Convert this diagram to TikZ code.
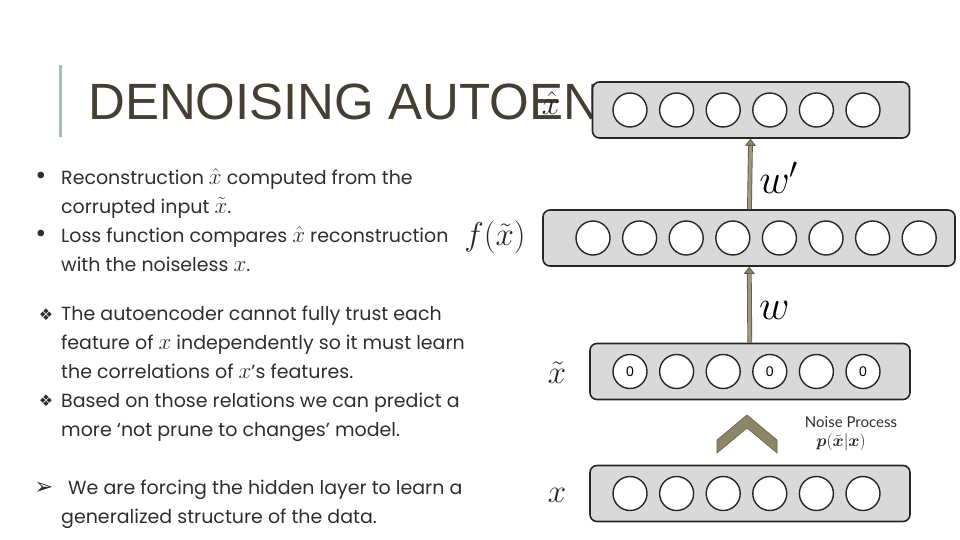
\documentclass[tikz,border=0pt]{standalone}
\usepackage{fix-cm}
\usepackage{amsmath}
\usepackage{fontspec}
\setmainfont{Poppins}
\newfontfamily\titlefont{Liberation Sans}
\newfontfamily\symfont{DejaVu Sans}
\newfontfamily\labelfont{Lato}
\usetikzlibrary{arrows.meta, positioning}
\definecolor{titlegray}{HTML}{453F33}
\definecolor{textgray}{HTML}{2E2E2E}
\definecolor{rulegray}{HTML}{A3BCC0}
\definecolor{wireolive}{HTML}{8C8668}
\definecolor{layerfill}{HTML}{D9D9D9}
% math in the bullet text, a bit larger than the text
\newcommand{\mvar}[1]{{\fontsize{23}{23}\selectfont$#1$}}

\begin{document}
\begin{tikzpicture}[x=1pt, y=-1pt,
    layer/.style={draw=black!85, line width=1.6pt, fill=layerfill,
      rounded corners=7pt, minimum height=56pt, inner sep=0pt},
    unit/.style={draw=black!85, line width=1.4pt, circle, fill=white,
      minimum size=34pt, inner sep=0pt, font=\titlefont\fontsize{14}{14}\selectfont},
    wire/.style={draw=wireolive!70!black, line width=0.9pt, double=wireolive!85!white,
      double distance=3pt, -{Triangle[length=7pt, width=11pt, fill=wireolive]}},
    bodytext/.style={anchor=base west, inner sep=0pt, align=left, text=textgray,
      font=\fontsize{19}{28.7}\selectfont},
    bulletsym/.style={inner sep=0pt, text=textgray},
    mathlabel/.style={inner sep=0pt, text=black!85, font=\fontsize{33}{33}\selectfont}]
  \useasboundingbox (0,0) rectangle (960,540);

  % Title
  \draw[rulegray, line width=3pt] (60,65) -- (60,137);
  \node[anchor=base west, inner sep=0pt, text=titlegray,
        font=\titlefont\fontsize{51}{51}\selectfont] (title) at (88,120)
    {DENOISING AUTOEN};

  % Bullets (anchored at the baseline of the last line)
  \node[bulletsym, font=\fontsize{27}{27}\selectfont] (dot1) at (41,178) {•};
  \node[bodytext] (item1) at (61,213)
    {Reconstruction \mvar{\hat{x}} computed from the\\corrupted input \mvar{\tilde{x}}.};
  \node[bulletsym, font=\fontsize{27}{27}\selectfont] (dot2) at (41,236) {•};
  \node[bodytext] (item2) at (61,271)
    {Loss function compares \mvar{\hat{x}} reconstruction\\with the noiseless \mvar{x}.};

  \node[bulletsym, font=\symfont\fontsize{16}{16}\selectfont] (diam1) at (46,315) {❖};
  \node[bodytext] (item3) at (61,378)
    {The autoencoder cannot fully trust each\\feature of \mvar{x} independently so it must learn\\the correlations of \mvar{x}’s features.};
  \node[bulletsym, font=\symfont\fontsize{16}{16}\selectfont] (diam2) at (46,401) {❖};
  \node[bodytext] (item4) at (61,436)
    {Based on those relations we can predict a\\more ‘not prune to changes’ model.};

  \node[bulletsym, font=\symfont\fontsize{23}{23}\selectfont] (arrow1) at (44,488) {➢};
  \node[bodytext] (item5) at (61,523)
    {\hspace*{7pt}We are forcing the hidden layer to learn a\\generalized structure of the data.};

  % Layers
  \node[layer, minimum width=317pt] (outlayer) at (751,110) {};
  \node[layer, minimum width=412pt] (hidlayer) at (749,238) {};
  \node[layer, minimum width=320pt] (noisylayer) at (750,371.5) {};
  \node[layer, minimum width=320pt] (inlayer) at (750,493.5) {};

  \foreach \i in {1,...,6}
    \node[unit] (out\i) at ({630+46.6*(\i-1)},110) {};
  \foreach \i in {1,...,8}
    \node[unit] (hid\i) at ({593+46.6*(\i-1)},238) {};
  \foreach \i/\val in {1/0,2/,3/,4/0,5/,6/0}
    \node[unit] (noisy\i) at ({630+46.6*(\i-1)},371.5) {\val};
  \foreach \i in {1,...,6}
    \node[unit] (in\i) at ({630+46.6*(\i-1)},493.5) {};

  % Layer labels
  \node[mathlabel] (outlab) at (551,103) {$\hat{x}$};
  \node[mathlabel] (hidlab) at (495,237) {$f(\tilde{x})$};
  \node[mathlabel] (noisylab) at (557,373) {$\tilde{x}$};
  \node[mathlabel] (inlab) at (557,495) {$x$};

  % Weights
  \draw[wire] (hidlayer) -- (outlayer)
    node[pos=0.45, right=9pt, inner sep=0pt, font=\fontsize{42}{42}\selectfont] (wout) {$w'$};
  \draw[wire] (noisylayer) -- (hidlayer)
    node[pos=0.42, right=9pt, inner sep=0pt, font=\fontsize{42}{42}\selectfont] (win) {$w$};

  % Noise process
  \draw[fill=wireolive, draw=wireolive!70!black, line width=0.6pt]
    (717,440) -- (747,415) -- (777,440) -- (777,453) -- (747,428) -- (717,453) -- cycle;
  \node[inner sep=0pt, text=textgray, font=\labelfont\fontsize{15}{15}\selectfont]
    (noiselab) at (851,422) {Noise Process};
  \node[inner sep=0pt, text=black!85, font=\fontsize{17}{17}\selectfont]
    (noiseprob) at (841,442) {$\boldsymbol{p}(\tilde{\boldsymbol{x}}\vert\boldsymbol{x})$};
\end{tikzpicture}
\end{document}
